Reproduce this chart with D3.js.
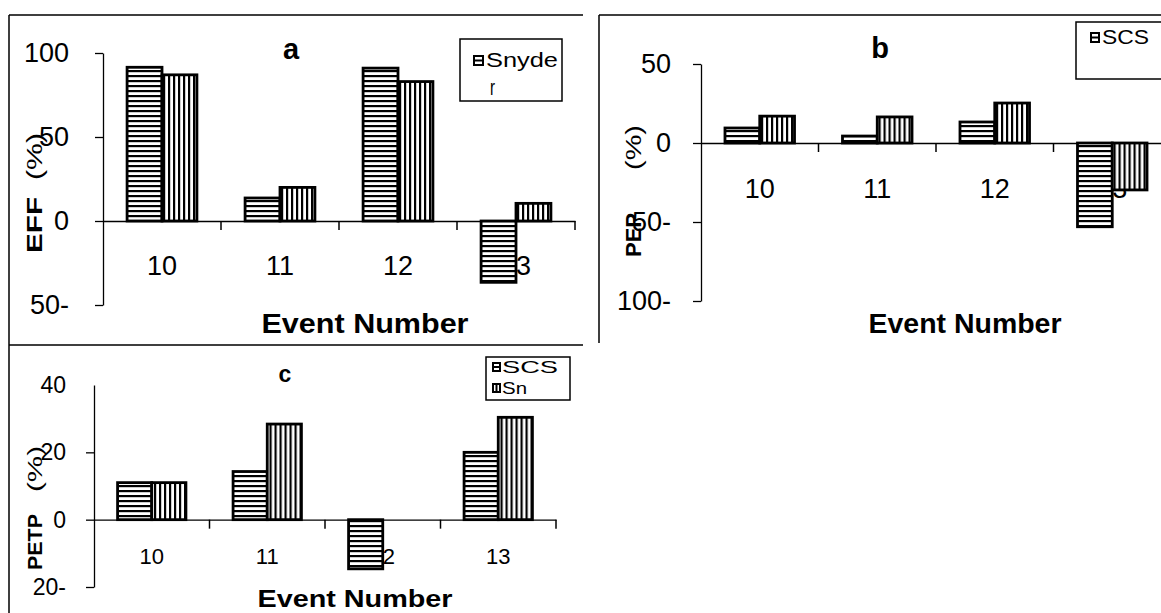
<!DOCTYPE html>
<html>
<head>
<meta charset="utf-8">
<script src="https://cdn.jsdelivr.net/npm/d3@7"></script>
<style>
    body { margin: 0; background: #fff; overflow: hidden; }
    svg { display: block; }
    text { font-family: "Liberation Sans", Arial, sans-serif; fill: #000; }
</style>
</head>
<body>
<div id="chart"></div>
<script>
// ---- data ----
var events = ["10", "11", "12", "13"];
var seriesKeys = ["SCS", "Snyder"];

var effSCS = [91.5, 13.7, 91, -36.5];
var effSnyder = [87, 20, 83, 10.5];

var pepSCS = [9.5, 4.4, 13.3, -53];
var pepSnyder = [17, 16.5, 25.3, -29.7];

var petpSCS = [11, 14.3, -14.6, 20];
var petpSnyder = [11, 28.4, 0, 30.4];

var effTicks = [100, 50, 0, -50];
var effTickLabels = ["100", "50", "0", "50-"];
var pepTicks = [50, 0, -50, -100];
var pepTickLabels = ["50", "0", "50-", "100-"];
var petpTicks = [40, 20, 0, -20];
var petpTickLabels = ["40", "20", "0", "20-"];

var svg = d3.select("#chart")
    .append("svg")
    .attr("width", 1161)
    .attr("height", 613);

// hatch patterns: horizontal for SCS, vertical for Snyder
var defs = svg.append("defs");
var hz = defs.append("pattern").attr("id", "hz")
    .attr("patternUnits", "userSpaceOnUse").attr("width", 5).attr("height", 5);
hz.append("rect").attr("width", 5).attr("height", 5).attr("fill", "#fff");
hz.append("rect").attr("width", 5).attr("height", 2.2).attr("fill", "#000");
var vt = defs.append("pattern").attr("id", "vt")
    .attr("patternUnits", "userSpaceOnUse").attr("width", 5).attr("height", 5);
vt.append("rect").attr("width", 5).attr("height", 5).attr("fill", "#fff");
vt.append("rect").attr("width", 2.2).attr("height", 5).attr("fill", "#000");
var fills = {SCS: "url(#hz)", Snyder: "url(#vt)"};

/**
 * draw one panel of grouped bars
 */
function drawPanel(o) {
    var y = d3.scaleLinear().domain(o.domain).range([o.yBottom, o.yTop]);
    var x = d3.scaleBand().domain(events).range([o.xLeft, o.xRight]);
    var xs = d3.scaleBand().domain(seriesKeys)
        .range([0, x.bandwidth()])
        .paddingInner(0).paddingOuter(0.69);

    var rows = events.map(function (e, i) {
        return {event: e, SCS: o.scs[i], Snyder: o.snyder[i]};
    });

    // y axis
    var ya = svg.append("g")
        .attr("transform", "translate(" + o.xLeft + ",0)")
        .call(d3.axisLeft(y)
            .tickValues(o.ticks)
            .tickFormat(function (d, i) { return o.tickLabels[i]; })
            .tickSize(8).tickSizeOuter(0).tickPadding(o.yPad));
    ya.attr("font-family", null).attr("font-size", o.tickFont);
    ya.selectAll("path, line").attr("stroke", "#000").attr("stroke-width", 1.3);
    if (o.hideTopTick) {
        ya.select(".tick line").remove();
    }

    // x axis along zero
    var xa = svg.append("g")
        .attr("transform", "translate(0," + y(0) + ")")
        .call(d3.axisBottom(x).tickSize(0).tickSizeOuter(0).tickPadding(o.xPad));
    xa.attr("font-family", null).attr("font-size", o.xTickFont);
    xa.select(".domain").attr("stroke", "#000").attr("stroke-width", 1.3);
    xa.selectAll(".bound")
        .data(events)
        .enter().append("line")
        .attr("x1", function (d) { return x(d) + x.bandwidth(); })
        .attr("x2", function (d) { return x(d) + x.bandwidth(); })
        .attr("y1", 0).attr("y2", 9)
        .attr("stroke", "#000").attr("stroke-width", 1.5);

    // bars
    svg.append("g")
        .selectAll("g")
        .data(rows)
        .enter().append("g")
        .attr("transform", function (d) { return "translate(" + x(d.event) + ",0)"; })
        .selectAll("rect")
        .data(function (d) {
            return seriesKeys.map(function (k) { return {key: k, value: d[k]}; })
                .filter(function (b) { return b.value !== 0; });
        })
        .enter().append("rect")
        .attr("x", function (d) { return xs(d.key); })
        .attr("y", function (d) { return y(Math.max(0, d.value)); })
        .attr("width", xs.bandwidth())
        .attr("height", function (d) { return Math.abs(y(d.value) - y(0)); })
        .attr("fill", function (d) { return fills[d.key]; })
        .attr("stroke", "#000")
        .attr("stroke-width", 2.8);

    // panel letter
    svg.append("text")
        .attr("x", o.titleX).attr("y", o.titleY)
        .attr("text-anchor", "middle")
        .style("font-weight", "bold").style("font-size", o.titleFont + "px")
        .text(o.title);

    // x title
    svg.append("text")
        .attr("x", o.xTitleX - o.xTitleLen / 2).attr("y", o.xTitleY)
        .attr("textLength", o.xTitleLen).attr("lengthAdjust", "spacingAndGlyphs")
        .style("font-weight", "bold").style("font-size", o.xTitleFont + "px")
        .text("Event Number");

    // y title: bold name + (%)
    svg.append("text")
        .attr("transform", "translate(" + o.yTitleX + "," + o.nameBottom + ") rotate(-90)")
        .attr("textLength", o.nameLen).attr("lengthAdjust", "spacingAndGlyphs")
        .style("font-weight", "bold").style("font-size", o.yTitleFont + "px")
        .text(o.yName);
    svg.append("text")
        .attr("transform", "translate(" + o.yTitleX + "," + o.pctBottom + ") rotate(-90)")
        .attr("textLength", o.pctLen).attr("lengthAdjust", "spacingAndGlyphs")
        .style("font-size", o.yTitleFont + "px")
        .text("(%)");
}

drawPanel({
    scs: effSCS, snyder: effSnyder, ticks: effTicks, tickLabels: effTickLabels,
    domain: [-50, 100], yTop: 53, yBottom: 305, xLeft: 103, xRight: 575,
    yPad: 26, tickFont: 27, xPad: 35, xTickFont: 27,
    title: "a", titleX: 291, titleY: 59, titleFont: 29,
    xTitleX: 365, xTitleY: 333, xTitleLen: 207, xTitleFont: 28,
    yName: "EFF", yTitleX: 42, nameBottom: 253, nameLen: 56, pctBottom: 180, pctLen: 47, yTitleFont: 22
});

drawPanel({
    scs: pepSCS, snyder: pepSnyder, ticks: pepTicks, tickLabels: pepTickLabels,
    domain: [-100, 50], yTop: 64, yBottom: 301, xLeft: 701, xRight: 1171,
    yPad: 22, tickFont: 27, xPad: 36, xTickFont: 27,
    title: "b", titleX: 880, titleY: 58, titleFont: 29,
    xTitleX: 965, xTitleY: 333, xTitleLen: 193, xTitleFont: 27,
    yName: "PEP", yTitleX: 641, nameBottom: 257, nameLen: 44, pctBottom: 170, pctLen: 45, yTitleFont: 22
});

drawPanel({
    scs: petpSCS, snyder: petpSnyder, ticks: petpTicks, tickLabels: petpTickLabels,
    domain: [-20, 40], yTop: 385, yBottom: 587, xLeft: 94, xRight: 556,
    yPad: 20, tickFont: 23, xPad: 29, xTickFont: 22, hideTopTick: true,
    title: "c", titleX: 285, titleY: 382, titleFont: 23,
    xTitleX: 355, xTitleY: 607, xTitleLen: 195, xTitleFont: 23,
    yName: "PETP", yTitleX: 42, nameBottom: 570, nameLen: 56, pctBottom: 492, pctLen: 46, yTitleFont: 20
});

// legends
function swatch(x, y, w, h, vertical) {
    svg.append("rect").attr("x", x).attr("y", y).attr("width", w).attr("height", h)
        .attr("fill", "#fff").attr("stroke", "#000").attr("stroke-width", 2);
    if (vertical) {
        svg.append("line").attr("x1", x + w / 2).attr("x2", x + w / 2)
            .attr("y1", y).attr("y2", y + h).attr("stroke", "#000").attr("stroke-width", 2);
    } else {
        svg.append("line").attr("x1", x).attr("x2", x + w)
            .attr("y1", y + h / 2).attr("y2", y + h / 2).attr("stroke", "#000").attr("stroke-width", 2);
    }
}
function legendText(x, y, size, len, s) {
    svg.append("text").attr("x", x).attr("y", y)
        .attr("textLength", len).attr("lengthAdjust", "spacingAndGlyphs")
        .style("font-size", size + "px").text(s);
}

svg.append("rect").attr("x", 460).attr("y", 39).attr("width", 102).attr("height", 62)
    .attr("fill", "#fff").attr("stroke", "#000").attr("stroke-width", 1.5);
swatch(474, 56, 9, 9, false);
legendText(486, 67, 20, 72, "Snyde");
legendText(490, 95, 22, 5, "r");

svg.append("rect").attr("x", 1076).attr("y", 22).attr("width", 100).attr("height", 57)
    .attr("fill", "#fff").attr("stroke", "#000").attr("stroke-width", 1.5);
swatch(1091, 33, 8, 9, false);
legendText(1102, 44, 20, 47, "SCS");

svg.append("rect").attr("x", 486).attr("y", 357).attr("width", 84).attr("height", 43)
    .attr("fill", "#fff").attr("stroke", "#000").attr("stroke-width", 1.5);
swatch(493, 363, 7, 8, false);
swatch(493, 384, 7, 8, true);
legendText(502, 373, 17, 56, "SCS");
legendText(502, 394, 17, 25, "Sn");

// frame lines
svg.append("path")
    .attr("d", "M9,15H583M9,15V613M599,15H1161M599,15V343M9,345H583")
    .attr("fill", "none").attr("stroke", "#000").attr("stroke-width", 1.5);
</script>
</body>
</html>
